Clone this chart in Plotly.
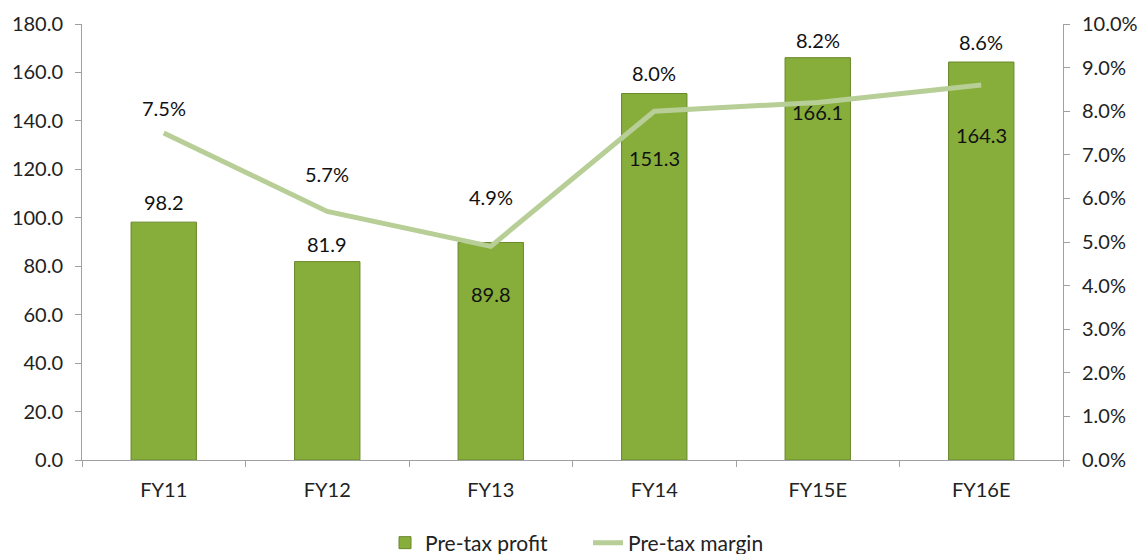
import plotly.graph_objects as go

categories = ["FY11", "FY12", "FY13", "FY14", "FY15E", "FY16E"]
profit = [98.2, 81.9, 89.8, 151.3, 166.1, 164.3]
margin = [7.5, 5.7, 4.9, 8.0, 8.2, 8.6]
left_ticks = [0, 20, 40, 60, 80, 100, 120, 140, 160, 180]
right_ticks = [0, 1, 2, 3, 4, 5, 6, 7, 8, 9, 10]

# label offsets (pixels, positive = up)
profit_label_shift = [20, 18, -52, -64, -54, -73]
margin_label_shift = [25, 37, 49, 38, 62, 43]

FONT = "Lato"
FS = 20
fig = go.Figure()
fig.add_trace(go.Bar(
    x=categories, y=profit, name="Pre-tax profit", width=0.4,
    marker=dict(color="#87AD3B", line=dict(color="#6A882C", width=1)),
    yaxis="y",
))
fig.add_trace(go.Scatter(
    x=categories, y=margin, name="Pre-tax margin", mode="lines",
    line=dict(color="#B7CE96", width=5), yaxis="y2",
))

ann = []
for c, v, s in zip(categories, profit, profit_label_shift):
    ann.append(dict(x=c, y=v, xref="x", yref="y", text=f"{v:.1f}", showarrow=False,
                    yshift=s, font=dict(family=FONT, size=FS, color="#111")))
for c, v, s in zip(categories, margin, margin_label_shift):
    ann.append(dict(x=c, y=v, xref="x", yref="y2", text=f"{v:.1f}%", showarrow=False,
                    yshift=s, font=dict(family=FONT, size=FS, color="#111")))

axis_common = dict(showline=True, linecolor="#A0A0A0", linewidth=1, ticks="outside",
                   ticklen=6, tickcolor="#A0A0A0", showgrid=False, zeroline=False,
                   automargin=False, tickfont=dict(family=FONT, size=FS, color="#222"))

fig.update_layout(
    width=1146, height=554, autosize=False,
    margin=dict(l=82, r=83, t=24, b=94, autoexpand=False),
    paper_bgcolor="white", plot_bgcolor="white",
    font=dict(family=FONT, size=FS, color="#222"),
    showlegend=True,
    legend=dict(orientation="h", x=385 / 1146, xanchor="left", xref="container",
                y=11 / 554, yanchor="middle", yref="container",
                entrywidth=158, entrywidthmode="pixels",
                font=dict(family=FONT, size=21, color="#222")),
    xaxis=dict(type="category", tickson="boundaries", ticklabelstandoff=12, **axis_common),
    yaxis=dict(range=[0, 180], tickvals=left_ticks, ticktext=[f"{t:.1f}" for t in left_ticks],
               ticklabelstandoff=8, **axis_common),
    yaxis2=dict(range=[0, 10], tickvals=right_ticks, ticktext=[f"{t:.1f}%" for t in right_ticks],
                overlaying="y", side="right", ticklabelstandoff=8, **axis_common),
    annotations=ann,
)
fig.write_html("out.html", config={"responsive": False, "displayModeBar": False},
               post_script="document.body.style.margin='0';document.body.style.overflow='hidden';")
